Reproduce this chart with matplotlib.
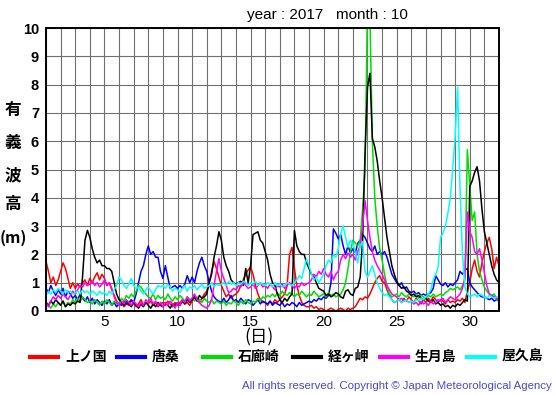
#!/usr/bin/env python3
"""Significant wave height, October 2017 (six coastal stations)."""

import matplotlib

matplotlib.use("Agg")
import matplotlib.pyplot as plt
from matplotlib.lines import Line2D
import numpy as np

YEAR = 2017
MONTH = 10
STEPS_PER_DAY = 6  # values read every 4 hours

stations = ["上ノ国", "唐桑", "石廊崎", "経ヶ岬", "生月島", "屋久島"]
colors = ["#ff0000", "#0000ff", "#00dd00", "#000000", "#ff00ff", "#00ffff"]

# one row per day (00h, 04h, 08h, 12h, 16h, 20h), last value = day 32 00h
kaminokuni = [
    1.75, 1.4, 1.0, 1.2, 0.9, 1.1,
    1.4, 1.7, 1.5, 1.15, 0.8, 1.0,
    0.8, 0.95, 0.85, 1.0, 1.1, 0.9,
    1.15, 1.0, 1.2, 1.35, 1.1, 1.3,
    1.15, 0.9, 1.0, 0.75, 0.55, 0.35,
    0.2, 0.3, 0.15, 0.25, 0.2, 0.35,
    0.3, 0.15, 0.25, 0.4, 0.2, 0.3,
    0.25, 0.35, 0.2, 0.3, 0.15, 0.25,
    0.3, 0.2, 0.35, 0.25, 0.15, 0.3,
    0.2, 0.3, 0.4, 0.25, 0.3, 0.2,
    0.35, 0.5, 0.4, 0.3, 0.45, 0.6,
    0.7, 1.0, 1.4, 1.75, 1.5, 1.2,
    0.9, 0.7, 0.5, 0.6, 0.45, 0.55,
    0.6, 0.7, 0.9, 1.1, 1.3, 1.45,
    1.55, 1.3, 0.9, 0.6, 0.4, 0.3,
    0.3, 0.2, 0.35, 0.25, 0.4, 0.3,
    0.4, 0.5, 0.6, 0.9, 2.0, 2.25,
    1.5, 0.9, 0.55, 0.3, 0.2, 0.15,
    0.15, 0.2, 0.1, 0.15, 0.05, 0.1,
    0.05, 0.0, 0.05, 0.1, 0.05, 0.0,
    0.05, 0.1, 0.05, 0.0, 0.1, 0.05,
    0.1, 0.15, 0.3, 0.45, 0.4, 0.5,
    0.45, 0.6, 0.8, 1.0, 1.15, 1.25,
    1.05, 1.0, 0.75, 0.55, 0.4, 0.3,
    0.35, 0.4, 0.3, 0.45, 0.35, 0.5,
    0.4, 0.3, 0.45, 0.35, 0.25, 0.4,
    0.3, 0.45, 0.35, 0.5, 0.4, 0.3,
    0.4, 0.35, 0.25, 0.4, 0.3, 0.35,
    0.3, 0.4, 0.35, 0.45, 0.3, 0.7,
    1.0, 1.5, 1.8, 1.4, 1.2, 1.7,
    2.1, 2.4, 2.6, 2.2, 1.5, 1.9,
    1.6,
]

karakuwa = [
    0.8, 0.65, 0.9, 0.7, 0.55, 0.75,
    0.6, 0.8, 0.5, 0.7, 0.6, 0.45,
    0.55, 0.4, 0.6, 0.45, 0.35, 0.5,
    0.3, 0.45, 0.25, 0.4, 0.3, 0.2,
    0.35, 0.25, 0.4, 0.2, 0.3, 0.15,
    0.25, 0.2, 0.35, 0.25, 0.3, 0.4,
    0.3, 0.6, 1.0, 1.4, 1.6, 2.0,
    2.3, 2.0, 2.1, 1.9, 1.9, 1.4,
    1.15, 1.6, 1.2, 0.8, 0.85, 0.9,
    0.8, 0.9, 0.8, 0.95, 1.25, 1.0,
    1.2, 1.0, 1.4, 1.7, 1.9, 1.6,
    1.4, 1.0, 0.7, 0.5, 0.4, 0.35,
    0.3, 0.45, 0.3, 0.4, 0.55, 0.35,
    0.4, 0.3, 0.45, 0.35, 0.25, 0.4,
    0.35, 0.2, 0.3, 0.4, 0.25, 0.35,
    0.3, 0.25, 0.35, 0.2, 0.3, 0.25,
    0.2, 0.3, 0.15, 0.25, 0.2, 0.3,
    0.25, 0.15, 0.3, 0.2, 0.25, 0.3,
    0.35, 0.3, 0.4, 0.35, 0.45, 0.4,
    0.5, 0.45, 0.55, 1.0, 2.9, 2.75,
    2.55, 2.7, 2.3, 2.0, 2.3, 2.05,
    2.2, 2.05, 2.4, 2.5, 2.7, 2.6,
    2.4, 2.2, 2.1, 2.3, 2.0, 2.1,
    2.0, 2.1, 1.9, 1.6, 1.3, 1.15,
    1.0, 0.9, 1.0, 0.8, 0.85, 0.7,
    0.65, 0.7, 0.6, 0.65, 0.55, 0.6,
    0.55, 0.6, 0.65, 0.8, 1.25, 1.1,
    0.95, 0.9, 1.0, 0.85, 0.95, 0.9,
    1.0, 1.1, 1.4, 1.3, 1.45, 1.5,
    1.0, 0.85, 0.75, 0.65, 0.55, 0.5,
    0.5, 0.45, 0.4, 0.45, 0.35, 0.4,
    0.4,
]

irozaki = [
    0.3, 0.2, 0.1, 0.25, 0.15, 0.3,
    0.2, 0.35, 0.15, 0.3, 0.25, 0.4,
    0.3, 0.45, 0.35, 0.5, 0.4, 0.3,
    0.35, 0.25, 0.4, 0.3, 0.2, 0.35,
    0.25, 0.4, 0.3, 0.2, 0.35, 0.25,
    0.3, 0.45, 0.35, 0.55, 0.45, 0.6,
    0.5, 0.7, 0.9, 0.85, 0.7, 0.6,
    0.5, 0.45, 0.6, 0.4, 0.55, 0.45,
    0.5, 0.4, 0.6, 0.45, 0.35, 0.5,
    0.4, 0.55, 0.45, 0.35, 0.5, 0.4,
    0.45, 0.35, 0.5, 0.4, 0.3, 0.45,
    0.35, 0.3, 0.4, 0.25, 0.35, 0.3,
    0.25, 0.35, 0.2, 0.3, 0.25, 0.35,
    0.3, 0.2, 0.35, 0.25, 0.4, 0.3,
    0.25, 0.35, 0.3, 0.45, 0.35, 0.5,
    0.45, 0.55, 0.5, 0.6, 0.5, 0.65,
    0.55, 0.7, 0.6, 0.55, 0.65, 0.6,
    0.5, 0.6, 0.55, 0.7, 0.6, 0.5,
    0.6, 0.55, 0.7, 0.6, 0.5, 0.55,
    0.6, 0.5, 0.65, 0.55, 0.6, 0.5,
    0.55, 0.6, 0.75, 1.0, 1.5, 2.1,
    2.5, 2.4, 2.3, 2.5, 3.6, 5.0,
    10.8, 10.5, 6.0, 4.0, 3.0, 2.2,
    1.8, 1.3, 0.9, 0.6, 0.5, 0.55,
    0.6, 0.5, 0.65, 0.55, 0.5, 0.6,
    0.55, 0.5, 0.6, 0.45, 0.55, 0.5,
    0.45, 0.55, 0.5, 0.6, 0.5, 0.55,
    0.6, 0.55, 0.65, 0.7, 0.8, 0.75,
    0.8, 0.85, 0.75, 0.9, 1.1, 5.7,
    4.4, 3.2, 3.5, 2.0, 1.4, 1.1,
    0.85, 0.7, 0.6, 0.55, 0.6, 0.45,
    0.3,
]

kyogamisaki = [
    0.3, 0.2, 0.35, 0.25, 0.4, 0.3,
    0.2, 0.35, 0.15, 0.25, 0.2, 0.3,
    0.25, 0.35, 0.3, 1.2, 2.5, 2.85,
    2.6, 2.2, 1.9, 1.7, 1.8, 1.6,
    1.6, 1.5, 1.5, 1.4, 1.0, 0.6,
    0.4, 0.3, 0.2, 0.35, 0.25, 0.15,
    0.3, 0.2, 0.1, 0.25, 0.15, 0.3,
    0.2, 0.1, 0.25, 0.15, 0.3, 0.2,
    0.15, 0.3, 0.2, 0.1, 0.25, 0.2,
    0.3, 0.2, 0.35, 0.25, 0.4, 0.3,
    0.4, 0.5, 0.35, 0.55, 0.45, 0.5,
    0.6, 1.0, 1.3, 1.9, 2.3, 2.8,
    2.5, 1.9, 1.6, 1.4, 1.1, 1.0,
    0.95, 1.0, 1.05, 0.9, 1.5, 1.0,
    1.6, 2.7, 2.75, 2.8, 2.5, 2.4,
    2.1, 1.8, 1.3, 1.0, 0.9, 0.6,
    0.4, 0.3, 0.45, 0.35, 0.5, 0.6,
    2.85, 2.3, 2.1, 2.0, 2.0, 1.7,
    1.5, 1.3, 1.2, 1.0, 0.8, 0.75,
    0.7, 0.55, 0.6, 0.5, 0.55, 0.65,
    0.6, 0.5, 0.45, 0.7, 0.75, 0.6,
    0.55, 0.8, 0.85, 1.2, 2.5, 5.6,
    7.9, 8.4, 6.1, 5.8, 5.3, 4.6,
    4.0, 3.3, 2.6, 2.1, 1.6, 1.3,
    1.05, 0.9, 0.8, 0.85, 0.7, 0.65,
    0.55, 0.6, 0.5, 0.55, 0.45, 0.4,
    0.45, 0.35, 0.3, 0.4, 0.25, 0.3,
    0.2, 0.25, 0.15, 0.2, 0.1, 0.2,
    0.15, 0.25, 0.2, 0.3, 0.4, 0.35,
    4.4, 4.6, 4.9, 5.1, 4.6, 3.6,
    2.8, 2.4, 2.0, 1.6, 1.3, 1.1,
    1.0,
]

ikitsukishima = [
    0.3, 0.15, 0.35, 0.5, 0.4, 0.55,
    0.45, 0.6, 0.5, 0.4, 0.55, 0.7,
    0.6, 0.75, 0.9, 0.85, 1.0, 0.9,
    0.95, 1.05, 0.9, 1.0, 0.85, 0.95,
    1.1, 0.9, 1.0, 0.8, 0.5, 0.3,
    0.2, 0.35, 0.25, 0.4, 0.3, 0.2,
    0.35, 0.25, 0.15, 0.3, 0.2, 0.4,
    0.3, 0.45, 0.25, 0.35, 0.2, 0.3,
    0.15, 0.3, 0.2, 0.35, 0.25, 0.1,
    0.3, 0.2, 0.4, 0.3, 0.5, 0.35,
    0.45, 0.6, 0.4, 0.3, 0.2, 0.15,
    0.1, 0.2, 0.4, 0.9, 1.4, 1.85,
    1.4, 1.15, 0.9, 0.65, 0.7, 0.8,
    0.75, 0.9, 0.85, 1.0, 0.9, 0.8,
    0.85, 0.95, 0.8, 0.9, 1.0, 0.85,
    0.9, 0.8, 0.95, 0.85, 0.75, 0.9,
    0.85, 0.95, 0.8, 0.9, 1.0, 0.9,
    0.8, 0.9, 0.85, 1.0, 0.9, 0.95,
    1.0, 1.1, 1.3, 1.2, 1.4, 1.3,
    1.5, 1.3, 1.2, 1.4, 1.1, 1.3,
    1.4, 1.8, 2.0, 1.85, 2.05, 1.9,
    2.0, 1.8, 2.1, 2.3, 3.0, 3.9,
    3.2, 2.6, 2.1, 1.8, 1.6, 1.45,
    1.3, 1.1, 0.9, 0.75, 0.6, 0.55,
    0.5, 0.4, 0.45, 0.35, 0.4, 0.3,
    0.35, 0.25, 0.3, 0.2, 0.35, 0.25,
    0.3, 0.2, 0.35, 0.25, 0.3, 0.4,
    0.35, 0.45, 0.3, 0.4, 0.5, 0.45,
    0.4, 0.5, 0.6, 0.8, 1.2, 3.5,
    2.8, 2.6, 2.1, 2.0, 2.2, 1.8,
    1.35, 0.9, 0.6, 0.55, 0.5, 0.45,
    0.4,
]

yakushima = [
    0.55, 0.7, 0.6, 0.75, 0.65, 0.8,
    0.7, 0.6, 0.75, 0.65, 0.7, 0.6,
    0.65, 0.7, 0.6, 0.75, 0.65, 0.7,
    0.6, 0.7, 0.65, 0.55, 0.7, 0.6,
    0.65, 0.55, 0.7, 0.6, 0.75, 0.9,
    1.2, 1.1, 0.9, 0.8, 0.95, 1.15,
    0.9, 0.8, 0.85, 0.7, 0.6, 0.75,
    0.85, 0.7, 0.6, 0.75, 0.9, 0.85,
    0.9, 0.8, 0.95, 0.85, 0.7, 0.8,
    0.75, 0.65, 0.8, 0.9, 0.7, 0.85,
    0.8, 0.9, 0.75, 0.85, 0.95, 0.8,
    0.85, 0.9, 1.0, 0.85, 0.95, 0.9,
    0.95, 1.0, 0.9, 1.05, 0.95, 1.0,
    0.9, 1.0, 0.95, 1.05, 1.0, 0.9,
    1.0, 0.95, 1.05, 0.9, 1.0, 0.95,
    0.9, 1.0, 0.95, 0.85, 1.0, 0.9,
    0.95, 0.85, 0.9, 1.0, 0.95, 0.9,
    1.0, 1.1, 1.25, 1.15, 1.5, 1.85,
    1.6, 1.3, 1.1, 1.2, 1.0, 1.15,
    1.3, 1.6, 1.8, 1.7, 2.0, 1.9,
    2.2, 2.75, 3.0, 2.6, 2.25, 2.5,
    2.4, 2.05, 1.7, 2.3, 2.45, 1.4,
    1.2, 1.4, 1.6, 1.3, 1.0, 0.8,
    0.65, 0.55, 0.6, 0.5, 0.4, 0.3,
    0.35, 0.4, 0.3, 0.35, 0.4, 0.3,
    0.35, 0.3, 0.4, 0.35, 0.45, 0.4,
    0.5, 0.6, 0.75, 1.1, 1.3, 1.55,
    2.6, 2.75, 3.0, 3.45, 4.0, 5.0,
    6.2, 7.9, 4.3, 2.0, 0.85, 0.6,
    0.5, 0.55, 0.6, 0.5, 0.6, 0.55,
    0.5, 0.45, 0.55, 0.5, 0.45, 0.5,
    0.5,
]

series = [kaminokuni, karakuwa, irozaki, kyogamisaki, ikitsukishima, yakushima]

x_ticks = [5, 10, 15, 20, 25, 30]
y_ticks = list(range(0, 11))

plt.rcParams["font.family"] = ["Liberation Sans", "DejaVu Sans"]
CJK = ["Noto Sans CJK JP", "DejaVu Sans"]

fig = plt.figure(figsize=(5.55, 3.95), dpi=100)
W, H = 555.0, 395.0
ax = fig.add_axes([46 / W, 1 - 311 / H, 453 / W, 283 / H])

for vals, color in zip(series, colors):
    vals = np.asarray(vals)
    t = 1 + np.arange(len(vals)) / STEPS_PER_DAY
    ax.plot(t, vals, color=color, lw=1.1, clip_on=True)

ax.set_xlim(1, 32)
ax.set_ylim(0, 10)
ax.set_xticks(range(1, 33), minor=True)
ax.set_xticks(x_ticks)
ax.set_yticks(y_ticks)
ax.grid(True, which="both", axis="x", color="#707070", lw=0.8)
ax.grid(True, which="major", axis="y", color="#707070", lw=0.8)
ax.set_axisbelow(True)
ax.tick_params(which="both", length=0)
ax.tick_params(axis="x", labelsize=11, pad=3)
ax.tick_params(axis="y", labelsize=10.5, pad=5)
for lab in ax.get_yticklabels():
    lab.set_fontweight("bold")
for sp in ax.spines.values():
    sp.set_linewidth(1.4)

fig.text(327 / W, 1 - 15 / H, f"year : {YEAR}   month : {MONTH}", ha="center", va="center", fontsize=11)

for ch, yy in zip(["有", "義", "波", "高"], [110, 143, 175, 204]):
    fig.text(13 / W, 1 - yy / H, ch, ha="center", va="center", fontsize=12, family=CJK, fontweight="bold")
fig.text(13 / W, 1 - 238 / H, "(m)", ha="center", va="center", fontsize=11.5, family=CJK, fontweight="bold")

fig.text(259 / W, 1 - 337 / H, "(日)", ha="center", va="center", fontsize=12.5, family=CJK)

legend_x = [30, 117, 203, 293, 380, 467]
ly = 1 - 357 / H
for x0, name, color in zip(legend_x, stations, colors):
    fig.add_artist(Line2D([x0 / W, (x0 + 28) / W], [ly, ly], color=color, lw=3, transform=fig.transFigure))
    fig.text((x0 + 35) / W, ly, name, ha="left", va="center", fontsize=10, family=CJK, fontweight="bold")

fig.text(552 / W, 1 - 386 / H, "All rights reserved. Copyright © Japan Meteorological Agency",
         ha="right", va="center", fontsize=8.2, color="#4848d0")

fig.savefig("out.png", dpi=100)
